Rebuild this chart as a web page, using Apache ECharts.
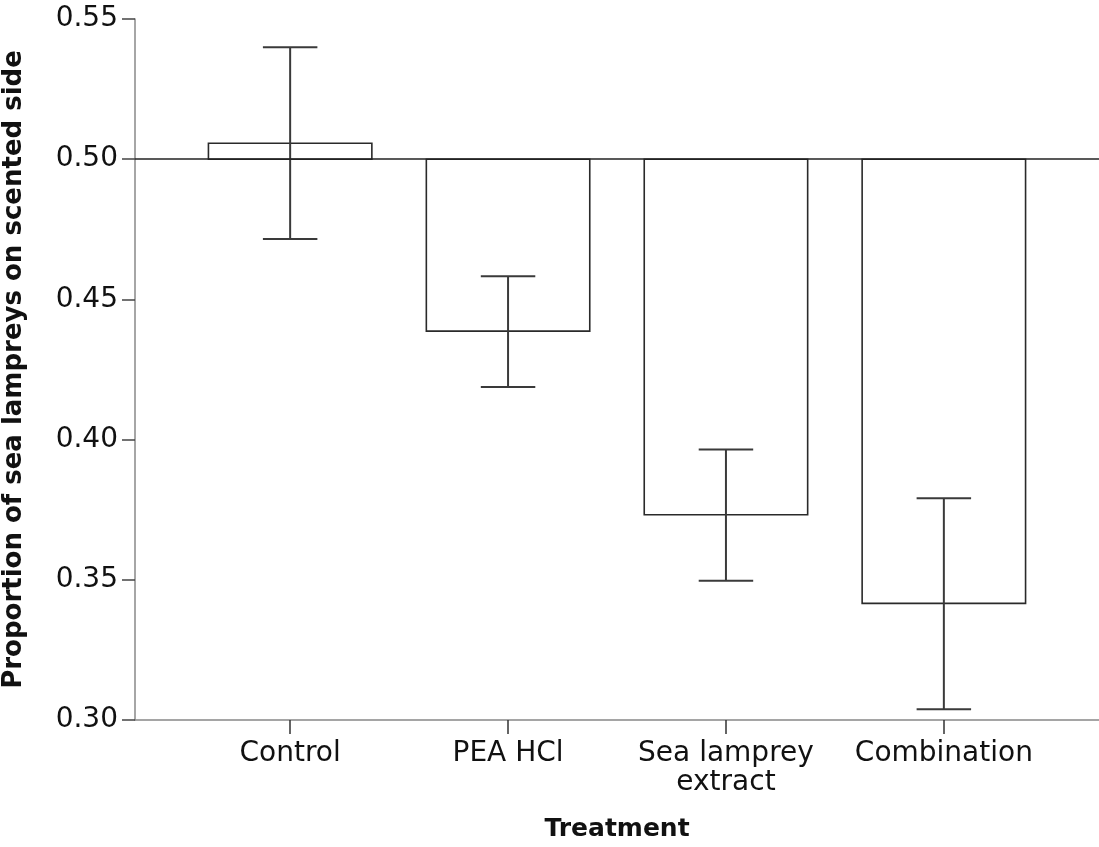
<!DOCTYPE html>
<html>
<head>
<meta charset="utf-8">
<script src="https://cdn.jsdelivr.net/npm/echarts@6/dist/echarts.min.js"></script>
<style>html,body{margin:0;padding:0;background:#fff}#c{width:1099px;height:847px}</style>
</head>
<body>
<div id="c"></div>
<script>
const categories = ['Control', 'PEA HCl', 'Sea lamprey\nextract', 'Combination'];
const positions = [1, 2, 3, 4];
const means = [0.5057, 0.4387, 0.3732, 0.3416];
const ciLow = [0.4715, 0.4188, 0.3497, 0.3038];
const ciHigh = [0.5399, 0.4583, 0.3965, 0.3791];
const baseline = 0.5;
const yTitle = 'Proportion of sea lampreys on scented side';
const xTitle = 'Treatment';

const FONT = 'DejaVu Sans';
const chart = echarts.init(document.getElementById('c'));

const barData = positions.map((p, i) => [p, means[i]]);
const errData = positions.map((p, i) => [p, ciLow[i], ciHigh[i]]);

chart.setOption({
  animation: false,
  backgroundColor: '#fff',
  grid: { left: 135, right: 0, top: 19, bottom: 127, containLabel: false, outerBoundsMode: 'none' },
  xAxis: {
    type: 'value',
    min: 0.288,
    max: 4.712,
    splitLine: { show: false },
    axisLine: { show: true, lineStyle: { color: '#888', width: 1.5 } },
    axisTick: { show: true, customValues: positions, length: 14, inside: false, lineStyle: { color: '#333', width: 1.5 } },
    axisLabel: {
      customValues: positions,
      formatter: v => categories[Math.round(v) - 1] || '',
      fontFamily: FONT, fontSize: 28, color: '#111', margin: 19, lineHeight: 29
    },
    name: xTitle,
    nameLocation: 'middle',
    nameGap: 97,
    nameTextStyle: { fontFamily: FONT, fontSize: 25, fontWeight: 'bold', color: '#111' }
  },
  yAxis: {
    type: 'value',
    min: 0.30,
    max: 0.55,
    interval: 0.05,
    splitLine: { show: false },
    axisLine: { show: true, lineStyle: { color: '#888', width: 1.5 } },
    axisTick: { show: true, length: 13, lineStyle: { color: '#444', width: 1.5 } },
    axisLabel: {
      formatter: v => v.toFixed(2),
      fontFamily: FONT, fontSize: 28, color: '#111', margin: 17
    },
    name: yTitle,
    nameLocation: 'middle',
    nameRotate: 90,
    nameGap: 108,
    nameTextStyle: { fontFamily: FONT, fontSize: 26, fontWeight: 'bold', color: '#111' }
  },
  series: [
    {
      type: 'custom',
      data: barData,
      z: 2,
      renderItem: (params, api) => {
        const x = api.value(0), v = api.value(1);
        const p1 = api.coord([x - 0.375, baseline]);
        const p2 = api.coord([x + 0.375, v]);
        return {
          type: 'rect',
          shape: { x: Math.min(p1[0], p2[0]), y: Math.min(p1[1], p2[1]), width: Math.abs(p2[0] - p1[0]), height: Math.abs(p2[1] - p1[1]) },
          style: { fill: '#fff', stroke: '#2a2a2a', lineWidth: 1.6 }
        };
      }
    },
    {
      type: 'line',
      data: [],
      z: 3,
      markLine: {
        silent: true,
        symbol: 'none',
        label: { show: false },
        lineStyle: { color: '#222', width: 1.5, type: 'solid' },
        data: [{ yAxis: baseline }]
      }
    },
    {
      type: 'custom',
      data: errData,
      z: 4,
      renderItem: (params, api) => {
        const x = api.value(0);
        const lo = api.coord([x, api.value(1)]);
        const hi = api.coord([x, api.value(2)]);
        const capL = api.coord([x - 0.125, api.value(1)])[0];
        const capR = api.coord([x + 0.125, api.value(1)])[0];
        const st = { stroke: '#3a3a3a', lineWidth: 2 };
        return {
          type: 'group',
          children: [
            { type: 'line', shape: { x1: lo[0], y1: lo[1], x2: hi[0], y2: hi[1] }, style: st },
            { type: 'line', shape: { x1: capL, y1: lo[1], x2: capR, y2: lo[1] }, style: st },
            { type: 'line', shape: { x1: capL, y1: hi[1], x2: capR, y2: hi[1] }, style: st }
          ]
        };
      }
    }
  ]
});
</script>
</body>
</html>
